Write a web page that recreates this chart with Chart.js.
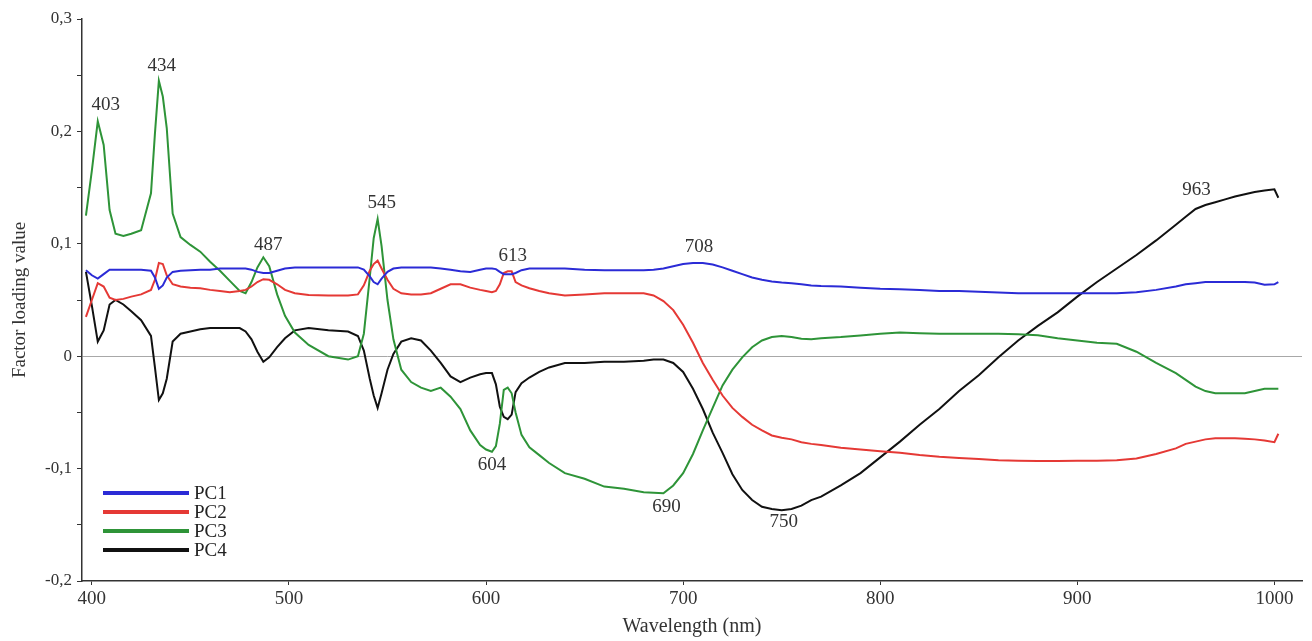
<!DOCTYPE html>
<html>
<head>
<meta charset="utf-8">
<title>Factor loading values PC1-PC4</title>
<script src="https://cdn.jsdelivr.net/npm/chart.js@4.4.0/dist/chart.umd.min.js"></script>
<style>
  html, body { margin: 0; padding: 0; background: #ffffff; }
  #wrap { width: 1312px; height: 641px; position: relative; }
</style>
</head>
<body>
<div id="wrap"><canvas id="chart"></canvas></div>
<script>
// Wavelength grid (nm) shared by all four loadings
const wavelengths = [
  397, 400, 403, 406, 409, 412, 416, 420, 425, 430,
  432, 434, 436, 438, 441, 445, 450, 455, 460, 465,
  470, 475, 478, 481, 484, 487, 490, 494, 498, 503,
  510, 520, 530, 535, 538, 541, 543, 545, 547, 550,
  553, 557, 562, 567, 572, 577, 582, 587, 592, 597,
  600, 603, 605, 607, 609, 611, 613, 615, 618, 622,
  627, 632, 640, 650, 660, 670, 680, 685, 690, 695,
  700, 705, 710, 715, 720, 725, 730, 735, 740, 745,
  750, 755, 760, 765, 770, 780, 790, 800, 810, 820,
  830, 840, 850, 860, 870, 880, 890, 900, 910, 920,
  930, 940, 950, 955, 960, 965, 970, 975, 980, 985,
  990, 995, 1000, 1002
];

const pc1 = [
  0.0765, 0.072, 0.069, 0.073, 0.077, 0.077, 0.077, 0.077, 0.077, 0.076,
  0.070, 0.060, 0.063, 0.070, 0.075, 0.076, 0.0765, 0.077, 0.077, 0.078,
  0.078, 0.078, 0.078, 0.077, 0.075, 0.074, 0.074, 0.076, 0.078, 0.079,
  0.079, 0.079, 0.079, 0.079, 0.077, 0.071, 0.066, 0.064, 0.069, 0.075,
  0.078, 0.079, 0.079, 0.079, 0.079, 0.078, 0.077, 0.0755, 0.075, 0.077,
  0.078, 0.078, 0.0775, 0.075, 0.073, 0.073, 0.073, 0.074, 0.0765, 0.078,
  0.078, 0.078, 0.078, 0.077, 0.0765, 0.0765, 0.0765, 0.077, 0.078, 0.080,
  0.082, 0.083, 0.083, 0.0815, 0.079, 0.076, 0.073, 0.070, 0.068, 0.0665,
  0.0655, 0.065, 0.064, 0.063, 0.0625, 0.062, 0.061, 0.060, 0.0595, 0.0588,
  0.058, 0.058, 0.0573, 0.0566, 0.056, 0.056, 0.056, 0.056, 0.056, 0.056,
  0.057, 0.059, 0.062, 0.064, 0.065, 0.066, 0.066, 0.066, 0.066, 0.066,
  0.0655, 0.0635, 0.064, 0.066
];

const pc2 = [
  0.035, 0.050, 0.065, 0.062, 0.052, 0.050, 0.051, 0.053, 0.055, 0.059,
  0.068, 0.083, 0.082, 0.072, 0.064, 0.062, 0.061, 0.0605, 0.059, 0.058,
  0.057, 0.058, 0.059, 0.062, 0.066, 0.0685, 0.068, 0.064, 0.059, 0.056,
  0.0545, 0.054, 0.054, 0.055, 0.063, 0.076, 0.082, 0.085, 0.078, 0.068,
  0.060, 0.056, 0.055, 0.055, 0.056, 0.060, 0.064, 0.064, 0.061, 0.059,
  0.058, 0.057, 0.058, 0.064, 0.074, 0.0755, 0.0755, 0.066, 0.063, 0.0605,
  0.058, 0.056, 0.054, 0.055, 0.056, 0.056, 0.056, 0.054, 0.049, 0.041,
  0.028, 0.012, -0.006, -0.021, -0.035, -0.046, -0.054, -0.061, -0.066, -0.0705,
  -0.0725, -0.074, -0.0765, -0.078, -0.079, -0.0815, -0.083, -0.0845, -0.086, -0.088,
  -0.0895, -0.0905, -0.0915, -0.0925, -0.093, -0.0933, -0.0933, -0.093, -0.093, -0.0925,
  -0.091, -0.087, -0.082, -0.078, -0.076, -0.074, -0.073, -0.073, -0.073, -0.0735,
  -0.074, -0.075, -0.0765, -0.069
];

const pc3 = [
  0.125, 0.165, 0.209, 0.188, 0.130, 0.109, 0.107, 0.109, 0.112, 0.145,
  0.198, 0.245, 0.231, 0.203, 0.127, 0.106, 0.099, 0.093, 0.084, 0.076,
  0.067, 0.058, 0.056, 0.066, 0.079, 0.088, 0.080, 0.055, 0.036, 0.021,
  0.010, 0.000, -0.003, 0.000, 0.020, 0.070, 0.105, 0.122, 0.098, 0.050,
  0.015, -0.012, -0.023, -0.028, -0.031, -0.028, -0.036, -0.047, -0.066, -0.079,
  -0.083, -0.085, -0.080, -0.060, -0.030, -0.028, -0.033, -0.050, -0.070, -0.081,
  -0.088, -0.095, -0.104, -0.109, -0.116, -0.118, -0.121, -0.1215, -0.122, -0.115,
  -0.104, -0.087, -0.066, -0.046, -0.026, -0.012, -0.001, 0.008, 0.014, 0.017,
  0.018, 0.017, 0.0155, 0.015, 0.016, 0.017, 0.0185, 0.020, 0.021, 0.0205,
  0.020, 0.020, 0.020, 0.020, 0.0195, 0.0187, 0.016, 0.014, 0.012, 0.011,
  0.004, -0.006, -0.015, -0.021, -0.027, -0.031, -0.033, -0.033, -0.033, -0.033,
  -0.031, -0.029, -0.029, -0.029
];

const pc4 = [
  0.075, 0.045, 0.013, 0.023, 0.046, 0.050, 0.046, 0.040, 0.032, 0.018,
  -0.010, -0.039, -0.033, -0.020, 0.013, 0.020, 0.022, 0.024, 0.025, 0.025,
  0.025, 0.025, 0.022, 0.015, 0.004, -0.005, -0.001, 0.008, 0.016, 0.023,
  0.025, 0.023, 0.022, 0.018, 0.005, -0.020, -0.035, -0.046, -0.033, -0.012,
  0.002, 0.013, 0.016, 0.014, 0.005, -0.006, -0.018, -0.023, -0.019, -0.016,
  -0.015, -0.015, -0.025, -0.045, -0.054, -0.056, -0.052, -0.032, -0.024, -0.019,
  -0.014, -0.010, -0.006, -0.006, -0.005, -0.005, -0.004, -0.003, -0.003, -0.006,
  -0.014, -0.029, -0.047, -0.068, -0.086, -0.105, -0.119, -0.128, -0.134, -0.136,
  -0.137, -0.136, -0.133, -0.128, -0.125, -0.115, -0.104, -0.090, -0.076, -0.061,
  -0.047, -0.031, -0.017, -0.001, 0.014, 0.027, 0.039, 0.053, 0.066, 0.078,
  0.090, 0.103, 0.117, 0.124, 0.131, 0.1345, 0.137, 0.1395, 0.142, 0.144,
  0.146, 0.1475, 0.1485, 0.141
];

const seriesNames = ['PC1', 'PC2', 'PC3', 'PC4'];
const seriesColors = ['#2b2bd6', '#e53935', '#2e9438', '#111111'];
const xTickValues = [400, 500, 600, 700, 800, 900, 1000];

// Peak / trough markers written on the plot (wavelength, loading, offset in px)
const peakLabels = [
  { text: '403', x: 403, y: 0.209, dx: 8, dy: -16 },
  { text: '434', x: 434, y: 0.245, dx: 3, dy: -15 },
  { text: '487', x: 487, y: 0.088, dx: 5, dy: -12 },
  { text: '545', x: 545, y: 0.122, dx: 4, dy: -16 },
  { text: '613', x: 613, y: 0.0755, dx: 1, dy: -15 },
  { text: '708', x: 708, y: 0.083, dx: 0, dy: -16 },
  { text: '963', x: 963, y: 0.133, dx: -5, dy: -17 },
  { text: '604', x: 604, y: -0.085, dx: -2, dy: 13 },
  { text: '690', x: 690, y: -0.122, dx: 3, dy: 14 },
  { text: '750', x: 750, y: -0.137, dx: 2, dy: 12 }
];

const serif = '"Liberation Serif", "Times New Roman", serif';
Chart.defaults.font.family = serif;
Chart.defaults.color = '#333';

// decimal comma like the original figure
function formatLoading(v) {
  if (Math.abs(v) < 1e-9) return '0';
  return v.toFixed(1).replace('.', ',');
}

const allSeries = [pc1, pc2, pc3, pc4];

const datasets = allSeries.map((values, i) => ({
  label: seriesNames[i],
  data: wavelengths.map((w, j) => ({ x: w, y: values[j] })),
  borderColor: seriesColors[i],
  backgroundColor: seriesColors[i],
  borderWidth: 2,
  pointRadius: 0,
  tension: 0,
  fill: false
}));

// text labels at the peaks
const peakLabelPlugin = {
  id: 'peakLabels',
  afterDatasetsDraw(chart) {
    const { ctx, scales: { x, y } } = chart;
    ctx.save();
    ctx.font = '19px ' + serif;
    ctx.fillStyle = '#333';
    ctx.textAlign = 'center';
    ctx.textBaseline = 'middle';
    peakLabels.forEach(p => {
      ctx.fillText(p.text, x.getPixelForValue(p.x) + p.dx, y.getPixelForValue(p.y) + p.dy);
    });
    ctx.restore();
  }
};

// legend box sits inside the plot, lower left
const cornerLegend = {
  id: 'cornerLegend',
  afterDraw(chart) {
    const { ctx, chartArea } = chart;
    const x0 = chartArea.left + 21;
    const lineLen = 86;
    const y0 = chartArea.bottom - 88;
    const gap = 19;
    ctx.save();
    chart.data.datasets.forEach((ds, i) => {
      const yy = y0 + i * gap;
      ctx.strokeStyle = ds.borderColor;
      ctx.lineWidth = 4;
      ctx.beginPath();
      ctx.moveTo(x0, yy);
      ctx.lineTo(x0 + lineLen, yy);
      ctx.stroke();
      ctx.font = '19px ' + serif;
      ctx.fillStyle = '#222';
      ctx.textAlign = 'left';
      ctx.textBaseline = 'middle';
      ctx.fillText(ds.label, x0 + lineLen + 5, yy + 1);
    });
    ctx.restore();
  }
};

new Chart(document.getElementById('chart'), {
  type: 'line',
  data: { datasets },
  options: {
    responsive: true,
    maintainAspectRatio: false,
    animation: false,
    layout: { padding: { top: 19, right: 10, bottom: 0, left: 0 } },
    plugins: {
      legend: { display: false },
      tooltip: { enabled: false }
    },
    scales: {
      x: {
        type: 'linear',
        min: 395,
        max: 1014,
        afterBuildTicks: axis => {
          axis.ticks = xTickValues.map(v => ({ value: v }));
        },
        afterFit: scale => { scale.height = 60; },
        ticks: {
          font: { size: 19 },
          color: '#333',
          padding: 3,
          maxRotation: 0,
          autoSkip: false,
          callback: v => String(v)
        },
        grid: { drawOnChartArea: false, tickLength: 4, tickColor: '#333' },
        border: { color: '#333', width: 1.5 },
        title: {
          display: true,
          text: 'Wavelength (nm)',
          font: { size: 20 },
          color: '#333',
          padding: { top: 0, bottom: 2 }
        }
      },
      y: {
        type: 'linear',
        min: -0.2,
        max: 0.3,
        afterFit: scale => { scale.width = 82; },
        ticks: {
          stepSize: 0.05,
          autoSkip: false,
          font: { size: 17 },
          color: '#333',
          padding: 5,
          callback: v => {
            const tenths = v * 10;
            return Math.abs(tenths - Math.round(tenths)) < 1e-6 ? formatLoading(v) : '';
          }
        },
        grid: {
          color: ctx => (ctx.tick && Math.abs(ctx.tick.value) < 1e-9) ? '#a8a8a8' : 'rgba(0,0,0,0)',
          lineWidth: 1,
          tickLength: 5,
          tickColor: '#333'
        },
        border: { color: '#333', width: 1.5 },
        title: {
          display: true,
          text: 'Factor loading value',
          font: { size: 19 },
          color: '#333',
          padding: { top: 9, bottom: 0 }
        }
      }
    }
  },
  plugins: [peakLabelPlugin, cornerLegend]
});
</script>
</body>
</html>
